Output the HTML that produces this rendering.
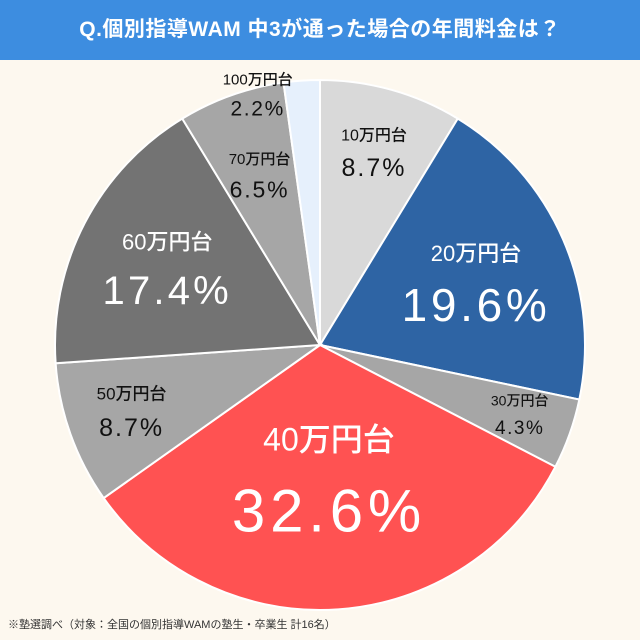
<!DOCTYPE html>
<html><head><meta charset="utf-8"><style>
html,body{margin:0;padding:0;width:640px;height:640px;background:#fdf8ef;overflow:hidden;font-family:"Liberation Sans","Noto Sans CJK JP",sans-serif}
#hdr{position:absolute;left:0;top:0;width:640px;height:60px;background:#3d8de0;color:#fff;font-weight:bold;font-size:21px;line-height:60px;text-align:center;letter-spacing:0.5px}
#note{position:absolute;left:8px;top:616px;font-size:11px;color:#333}
svg{position:absolute;left:0;top:0}
</style></head><body>
<div id="hdr">Q.個別指導WAM 中3が通った場合の年間料金は？</div>
<svg id="chart" width="640" height="640"></svg>
<div id="note">※塾選調べ（対象：全国の個別指導WAMの塾生・卒業生 計16名）</div>
<script>
const categories=["10万円台","20万円台","30万円台","40万円台","50万円台","60万円台","70万円台","100万円台"];
const values=[8.7,19.6,4.3,32.6,8.7,17.4,6.5,2.2];
const colors=["#d9d9d9","#2e64a4","#a6a6a6","#ff5252","#a6a6a6","#737373","#a6a6a6","#e6f0fc"];
const textColors=["#111","#fff","#111","#fff","#111","#fff","#111","#111"];
const labelR=[200,170,212,130,200,172,180,250];
const labelSize=[16,22,14,32,17,22,15,15];
const pctSize=[25,46,19,60,25,40,23,21];
const nudgeX=[0,0,0,0,0,0,0,-45];
const cx=320,cy=345,R=265;
const svg=document.getElementById('chart');
const NS="http://www.w3.org/2000/svg";
const total=values.reduce((a,b)=>a+b,0);
function pt(a,r){return [cx+r*Math.sin(a),cy-r*Math.cos(a)];}
let acc=0;
values.forEach((v,i)=>{
  const a0=acc/total*2*Math.PI; acc+=v; const a1=acc/total*2*Math.PI;
  const p0=pt(a0,R),p1=pt(a1,R);
  const large=(a1-a0)>Math.PI?1:0;
  const path=document.createElementNS(NS,'path');
  path.setAttribute('d',`M${cx},${cy}L${p0[0]},${p0[1]}A${R},${R} 0 ${large} 1 ${p1[0]},${p1[1]}Z`);
  path.setAttribute('fill',colors[i]);
  path.setAttribute('stroke','#fff');
  path.setAttribute('stroke-width','2');
  
  
  svg.appendChild(path);
});
acc=0;
values.forEach((v,i)=>{
  const am=(acc+v/2)/total*2*Math.PI; acc+=v;
  const p=pt(am,labelR[i]); const x=p[0]+nudgeX[i];
  const t1=document.createElementNS(NS,'text');
  t1.setAttribute('x',x);t1.setAttribute('y',p[1]-labelSize[i]*0.75);
  t1.setAttribute('text-anchor','middle');t1.setAttribute('font-size',labelSize[i]);
  t1.setAttribute('fill',textColors[i]);t1.setAttribute('font-weight','500');
  t1.textContent=categories[i];
  
  
  svg.appendChild(t1);
  const t2=document.createElementNS(NS,'text');
  t2.setAttribute('x',x);t2.setAttribute('y',p[1]+pctSize[i]*0.95);
  t2.setAttribute('text-anchor','middle');t2.setAttribute('font-size',pctSize[i]);
  t2.setAttribute('fill',textColors[i]);t2.setAttribute('letter-spacing',pctSize[i]*0.08);
  t2.textContent=v.toFixed(1)+'%';
  
  
  svg.appendChild(t2);
});
</script>
</body></html>
